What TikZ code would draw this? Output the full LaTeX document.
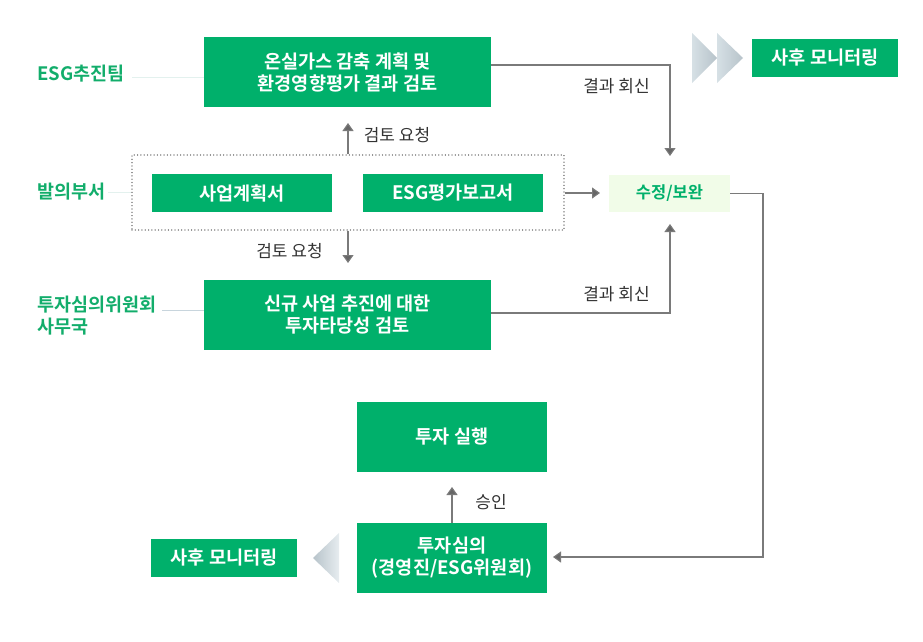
\documentclass[tikz,border=0pt]{standalone}
\usepackage{fontspec}
\setmainfont{Noto Sans CJK KR}[BoldFont={Noto Sans CJK KR Bold}]
\usetikzlibrary{arrows.meta}
\definecolor{esg}{HTML}{00B06B}
\definecolor{lbl}{HTML}{12AD6B}
\definecolor{pale}{HTML}{F1FCE8}
\definecolor{conn}{HTML}{7A7A7A}
\definecolor{tipc}{HTML}{666666}
\definecolor{txt}{HTML}{333333}
\definecolor{dotc}{HTML}{8A8A8A}
\definecolor{faintc}{HTML}{E3F1EE}
\definecolor{faintb}{HTML}{C8D5DD}
\definecolor{chevA}{HTML}{D6E0E5}
\definecolor{chevB}{HTML}{B7C3CA}
\tikzset{
  gbox/.style={fill=esg, text=white, font=\bfseries\fontsize{18.6}{22}\selectfont, align=center, inner sep=0pt},
  sidelbl/.style={text=lbl, font=\bfseries\fontsize{18.5}{22}\selectfont, align=left, anchor=west, inner sep=0pt},
  conn/.style={draw=conn, line width=1.1pt},
  arr/.style={conn, -{Triangle[width=11pt,length=8pt,fill=tipc]}},
  small/.style={text=txt, font=\fontsize{17}{20}\selectfont, inner sep=0pt},
  faint/.style={draw=faintc, line width=1pt},
}
\begin{document}
\begin{tikzpicture}[x=1pt,y=-1pt]
\useasboundingbox (0,0) rectangle (923,642);
% boxes
\node[gbox, minimum width=287pt, minimum height=70pt] (b1) at (347.5,72) {온실가스 감축 계획 및\\환경영향평가 결과 검토};
\node[draw=dotc, line width=1.4pt, dash pattern=on 0.01pt off 3.3pt, line cap=round, minimum width=432pt, minimum height=75pt, inner sep=0pt] (dots) at (348,192.5) {};
\node[gbox, minimum width=180pt, minimum height=38pt] (plan) at (242,193) {사업계획서};
\node[gbox, minimum width=180pt, minimum height=38pt] (rep) at (453,193) {ESG평가보고서};
\node[fill=pale, text=esg, font=\bfseries\fontsize{16.5}{18}\selectfont, minimum width=121pt, minimum height=37pt, inner sep=0pt] (fix) at (669.5,193.5) {수정/보완};
\node[gbox, minimum width=287pt, minimum height=70pt] (b3) at (347.5,314.5) {신규 사업 추진에 대한\\투자타당성 검토};
\node[gbox, minimum width=190pt, minimum height=70pt] (exec) at (452,437) {투자 실행};
\node[gbox, minimum width=190pt, minimum height=70pt] (rev) at (452,558) {투자심의\\(경영진/ESG위원회)};
\node[gbox, minimum width=146pt, minimum height=38pt] (monb) at (224,558) {사후 모니터링};
\node[gbox, minimum width=146pt, minimum height=38pt] (mont) at (825,58) {사후 모니터링};
% chevrons
\shade[left color=chevA, right color=chevB] (692,33) -- (717,58) -- (692,83) -- cycle;
\shade[left color=chevA, right color=chevB] (717,33) -- (743,58) -- (717,83) -- cycle;
\shade[left color=chevB, right color=chevA!60] (313,558) -- (339,533) -- (339,583) -- cycle;
% side labels
\node[sidelbl] (l1) at (37,74) {ESG추진팀};
\node[sidelbl] (l2) at (37,192) {발의부서};
\node[sidelbl] (l3) at (37,316) {투자심의위원회\\사무국};
\coordinate (f1) at (132,77);
\coordinate (f2) at (108,192);
\coordinate (f3) at (162,310);
\draw[faint] (f1) -- (b1.west |- f1);
\draw[faint] (f2) -- (dots.west |- f2);
\draw[draw=faintb, line width=1pt] (f3) -- (b3.west |- f3);
% connectors
\coordinate (t1) at (670,156);
\coordinate (t2) at (670,224);
\coordinate (up1) at (348,123);
\coordinate (dn1) at (348,263);
\coordinate (tr) at (600,193);
\coordinate (y65) at (0,65);
\coordinate (c1) at (763,557);
\coordinate (t3) at (553,557);
\coordinate (up2) at (452,487);
\draw[arr] (dots.north) -- (up1);
\draw[arr] (dots.south) -- (dn1);
\draw[arr] (dots.east |- tr) -- (tr);
\draw[arr] (b1.east |- y65) -| (t1);
\draw[arr] (b3.east |- 0,313) -| (t2);
\draw[arr] (fix.east) -| (c1) -- (t3);
\draw[arr] (rev.north) -- (up2);
% labels
\node[small] (q1) at (397,135) {검토 요청};
\node[small] (q2) at (289.5,251) {검토 요청};
\node[small] (r1) at (616.5,86) {결과 회신};
\node[small] (r2) at (616.5,294) {결과 회신};
\node[small] (ok) at (491,502) {승인};
\end{tikzpicture}
\end{document}
